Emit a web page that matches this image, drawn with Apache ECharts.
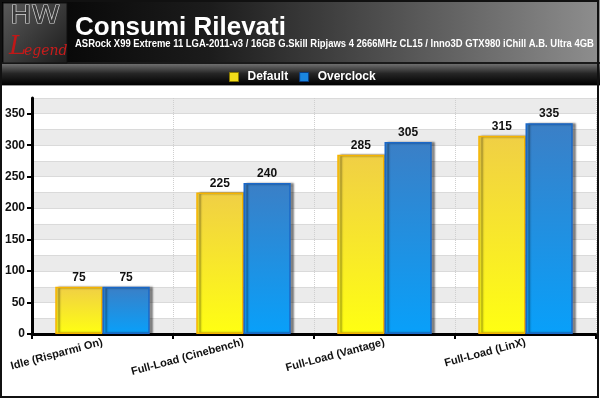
<!DOCTYPE html>
<html>
<head>
<meta charset="utf-8">
<script src="https://cdn.jsdelivr.net/npm/echarts@6/dist/echarts.min.js"></script>
<style>html,body{margin:0;padding:0;background:#fff}#c{width:600px;height:399px}</style>
</head>
<body>
<div id="c"></div>
<script>
const categories = ['Idle (Risparmi On)', 'Full-Load (Cinebench)', 'Full-Load (Vantage)', 'Full-Load (LinX)'];
const defaultValues = [75, 225, 285, 315];
const overclockValues = [75, 240, 305, 335];
const yTickValues = [0, 50, 100, 150, 200, 250, 300, 350];
const titleText = 'Consumi Rilevati';
const subtitleText = 'ASRock X99 Extreme 11 LGA-2011-v3 / 16GB G.Skill Ripjaws 4 2666MHz CL15 / Inno3D GTX980 iChill A.B. Ultra 4GB';

const FONT = '"Liberation Sans", Arial, sans-serif';
const chart = echarts.init(document.getElementById('c'), null, {renderer: 'canvas'});
const lg = (a, b, c, d, stops) => new echarts.graphic.LinearGradient(a, b, c, d, stops);

chart.setOption({
  animation: false,
  backgroundColor: '#ffffff',
  textStyle: {fontFamily: FONT},
  graphic: [
    {type: 'rect', shape: {x: 0, y: 0, width: 600, height: 63}, style: {fill: lg(0, 0, 1, 0, [{offset: 0, color: '#000'}, {offset: 0.35, color: '#1c1c1c'}, {offset: 1, color: '#8e8e8e'}])}, z: 0},
    {type: 'rect', shape: {x: 0, y: 62, width: 600, height: 2}, style: {fill: '#1a1a1a'}, z: 1},
    {type: 'rect', shape: {x: 0, y: 64, width: 600, height: 21}, style: {fill: lg(0, 0, 0, 1, [{offset: 0, color: '#6e6e6e'}, {offset: 0.45, color: '#262626'}, {offset: 1, color: '#000'}])}, z: 0},
    {type: 'rect', shape: {x: 0, y: 85, width: 600, height: 1}, style: {fill: '#9a9a9a'}, z: 1},
    {type: 'rect', shape: {x: 3, y: 3, width: 64, height: 60}, style: {fill: lg(0, 0, 1, 1, [{offset: 0, color: '#5a5a5a'}, {offset: 1, color: '#1c1c1c'}]), stroke: '#111', lineWidth: 1}, z: 2},
    {type: 'text', x: 35, y: 4, style: {text: 'HW', fontFamily: '"DejaVu Sans"', fontWeight: 'normal', fontSize: 25, fill: '#3a3a3a', stroke: '#d8d8d8', lineWidth: 1.2, align: 'center'}, scaleX: 1.15, z: 3},
    {type: 'text', x: 9, y: 34, style: {text: 'L', fontFamily: '"DejaVu Serif"', fontStyle: 'italic', fontSize: 26, fill: '#c01818'}, z: 3},
    {type: 'text', x: 24, y: 44, style: {text: 'egend', fontFamily: '"DejaVu Serif"', fontStyle: 'italic', fontSize: 14, fill: '#c81c1c'}, z: 3},
    {type: 'text', x: 75, y: 15, style: {text: titleText, fontFamily: FONT, fontWeight: 'bold', fontSize: 26, fill: '#ffffff'}, z: 3},
    {type: 'text', x: 75, y: 39, scaleX: 0.9, style: {text: subtitleText, fontFamily: FONT, fontWeight: 'bold', fontSize: 10.5, fill: '#ffffff'}, z: 3},
    {type: 'rect', shape: {x: 1, y: 1, width: 597, height: 396}, style: {fill: 'none', stroke: '#111', lineWidth: 2}, z: 10}
  ],
  legend: {
    left: 224, top: 66,
    itemWidth: 9, itemHeight: 9, itemGap: 11, icon: 'rect',
    textStyle: {color: '#fff', fontWeight: 'bold', fontSize: 12, fontFamily: FONT, padding: [0, 0, 0, 4]},
    data: [
      {name: 'Default', itemStyle: {color: '#f2dc1a', borderColor: '#8a7a00', borderWidth: 1}},
      {name: 'Overclock', itemStyle: {color: '#1a86e0', borderColor: '#0a3c80', borderWidth: 1}}
    ]
  },
  grid: {left: 32, right: 4, top: 98, bottom: 65, containLabel: false},
  xAxis: {
    type: 'category', data: categories,
    axisLine: {lineStyle: {color: '#000', width: 3}},
    axisTick: {show: true, length: 5, interval: 0, lineStyle: {color: '#000', width: 2}},
    axisLabel: {interval: 0, rotate: 15, fontWeight: 'bold', fontSize: 11, color: '#111', margin: 8, fontFamily: FONT},
    splitLine: {show: true, interval: 0, lineStyle: {color: '#cfcfcf', type: 'dotted', width: 1}}
  },
  yAxis: [
    {
      type: 'value', min: 0, max: 375, interval: 25, z: 3,
      axisLine: {show: true, lineStyle: {color: '#000', width: 3}},
      axisTick: {show: true, length: 5, customValues: yTickValues, lineStyle: {color: '#000', width: 2}},
      axisLabel: {customValues: yTickValues, fontWeight: 'bold', fontSize: 12, color: '#111', margin: 7, fontFamily: FONT},
      splitLine: {show: false},
      splitArea: {show: false}
    },
    {
      type: 'value', min: 0, max: 375, interval: 25, position: 'left', z: 0,
      axisLine: {show: false}, axisTick: {show: false}, axisLabel: {show: false},
      splitLine: {show: true, lineStyle: {color: '#dadada', width: 1}},
      splitArea: {show: true, areaStyle: {color: ['#ebebeb', '#ffffff']}}
    }
  ],
  series: [
    {
      name: 'Default', type: 'bar', data: defaultValues, yAxisIndex: 0,
      barGap: '0%', barCategoryGap: '33%',
      itemStyle: {
        color: lg(0, 0, 0, 1, [{offset: 0, color: '#f0cf45'}, {offset: 1, color: '#ffff12'}]),
        borderColor: '#f5b300', borderWidth: 1.5,
        shadowColor: 'rgba(0,0,0,0.45)', shadowBlur: 2, shadowOffsetX: 3, shadowOffsetY: 0
      },
      label: {show: true, position: 'top', distance: 3, fontWeight: 'bold', fontSize: 12, color: '#111', fontFamily: FONT}
    },
    {
      name: 'Overclock', type: 'bar', data: overclockValues, yAxisIndex: 0,
      itemStyle: {
        color: lg(0, 0, 0, 1, [{offset: 0, color: '#3b7fc6'}, {offset: 1, color: '#08a0fa'}]),
        borderColor: '#1a68c8', borderWidth: 1.5,
        shadowColor: 'rgba(0,0,0,0.45)', shadowBlur: 2, shadowOffsetX: 3, shadowOffsetY: 0
      },
      label: {show: true, position: 'top', distance: 3, fontWeight: 'bold', fontSize: 12, color: '#111', fontFamily: FONT}
    }
  ]
});
</script>
</body>
</html>
